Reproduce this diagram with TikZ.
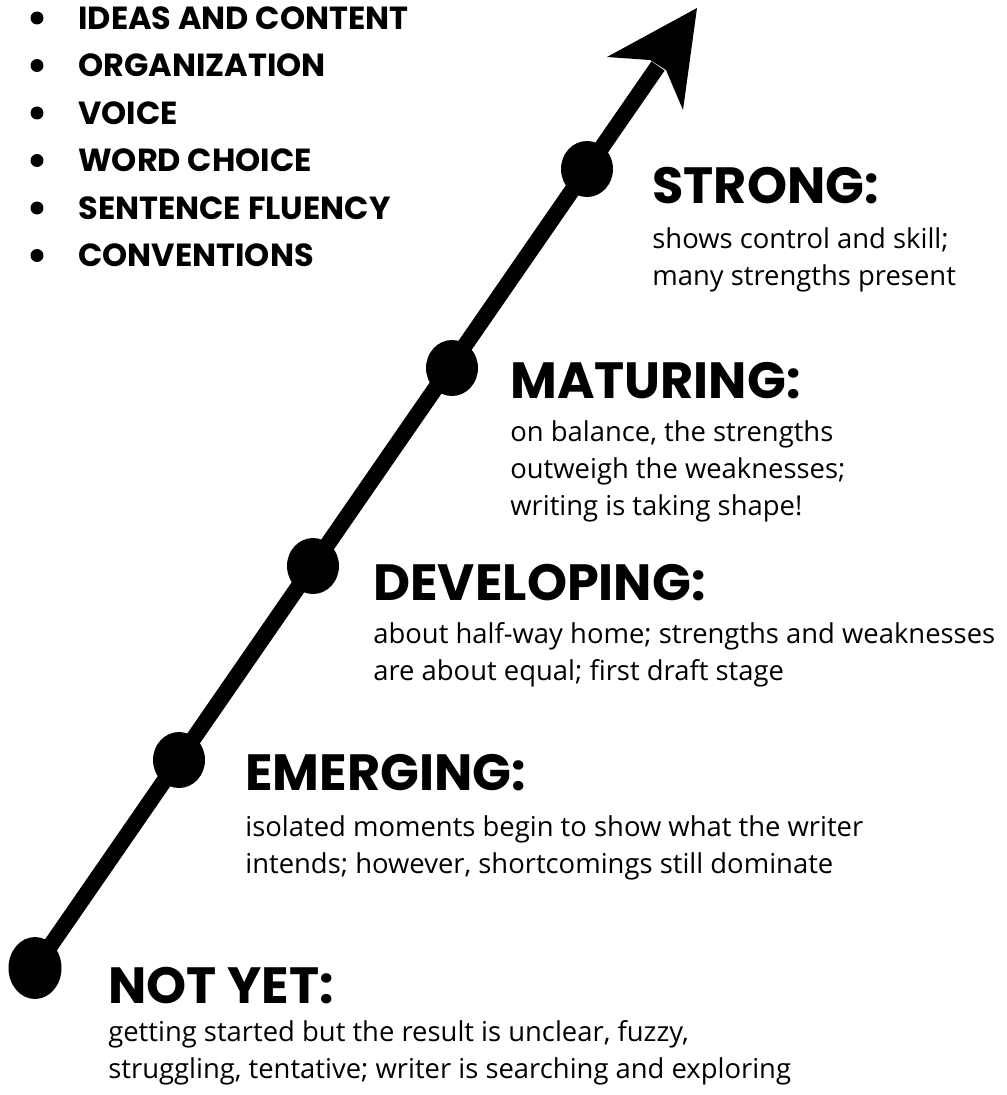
\documentclass[tikz,border=0pt]{standalone}
\usepackage{fontspec}
\setmainfont{Open Sans}
\newfontfamily\headfont{Poppins}
\usetikzlibrary{shapes.geometric}

\tikzset{
  dot/.style={ellipse, fill=black, inner sep=0, minimum width=1.04cm, minimum height=1.12cm},
  bullet/.style={circle, fill=black, inner sep=0, minimum size=0.26cm},
  level/.style={anchor=base west, inner sep=0, font=\headfont\bfseries\fontsize{29}{30}\selectfont},
  item/.style={anchor=west, inner sep=0, font=\headfont\bfseries\fontsize{18.2}{20}\selectfont},
  descr/.style={anchor=base west, inner sep=0, align=left, font=\fontsize{15.6}{21}\selectfont},
}

\begin{document}
\begin{tikzpicture}[x=0.02cm, y=-0.02cm]
\useasboundingbox (0,0) rectangle (1007,1095);

% the list of traits
\foreach \t [count=\i from 0] in {IDEAS AND CONTENT, ORGANIZATION, VOICE,
    WORD CHOICE, SENTENCE FLUENCY, CONVENTIONS} {
  \node (b\i) [bullet] at (37,18+47.5*\i) {};
  \node (t\i) [item] at (78,18+47.5*\i) {\t};
}

% the scale
\node (d0) [dot, minimum width=1.06cm, minimum height=1.24cm] at (35,968) {};
\coordinate (notch) at (658,66);
\coordinate (tip) at (697,8);
\draw [line width=0.32cm] (d0.center) -- (notch);
\fill (tip) -- (607,57) -- (650,60) -- (666,70) -- (683,110) -- cycle;
\node (d1) [dot] at (179,760) {};
\node (d2) [dot] at (313,566) {};
\node (d3) [dot] at (452,368) {};
\node (d4) [dot] at (587,169) {};

% levels (base of a text is its last line)
\node (strong) [level] at (652,203) {STRONG:};
\node (strongtxt) [descr] at (652,285) {shows control and skill;\\many strengths present};

\node (maturing) [level] at (510,398) {MATURING:};
\node (maturingtxt) [descr] at (510,515) {on balance, the strengths\\outweigh the weaknesses;\\writing is taking shape!};

\node (developing) [level] at (373,600) {DEVELOPING:};
\node (developingtxt) [descr] at (373,680) {about half-way home; strengths and weaknesses\\are about equal; first draft stage};

\node (emerging) [level] at (245,790) {EMERGING:};
\node (emergingtxt) [descr] at (245,873) {isolated moments begin to show what the writer\\intends; however, shortcomings still dominate};

\node (notyet) [level] at (108,1003) {NOT YET:};
\node (notyettxt) [descr] at (108,1078) {getting started but the result is unclear, fuzzy,\\struggling, tentative; writer is searching and exploring};
\end{tikzpicture}
\end{document}
